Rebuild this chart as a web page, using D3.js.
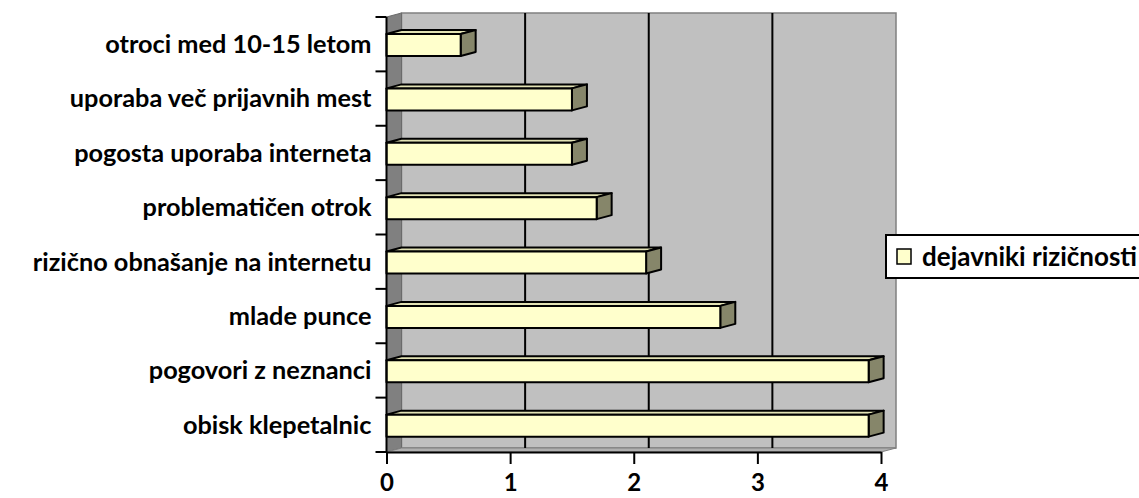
<!DOCTYPE html>
<html>
  <head>
    <meta charset="utf-8" />
    <title>Dejavniki rizičnosti</title>
    <style>
      body,
      html {
        margin: 0;
        padding: 0;
        background: #fff;
      }
      text {
        font-family: Lato, 'Open Sans', sans-serif;
        font-weight: bold;
        fill: #000;
      }
    </style>
  </head>
  <body>
    <script src="https://cdn.jsdelivr.net/npm/d3@7"></script>
    <script>
      const categories = [
        'otroci med 10-15 letom',
        'uporaba več prijavnih mest',
        'pogosta uporaba interneta',
        'problematičen otrok',
        'rizično obnašanje na internetu',
        'mlade punce',
        'pogovori z neznanci',
        'obisk klepetalnic'
      ];
      const values = [0.6, 1.5, 1.5, 1.7, 2.1, 2.7, 3.9, 3.9];
      const seriesName = 'dejavniki rizičnosti';
      const xTicks = [0, 1, 2, 3, 4];

      const width = 1139;
      const height = 498;

      const svg = d3
        .select('body')
        .append('svg')
        .attr('width', width)
        .attr('height', height);

      // front plane scales; the back wall is shifted by the depth offset
      const x = d3.scaleLinear().domain([0, 4]).range([386.5, 881]);
      const y = d3.scaleBand().domain(categories).range([17, 452]);
      const dx = 15;
      const dy = -4;

      const x0 = x(0);
      const yTop = y.range()[0];
      const yBot = y.range()[1];

      // walls
      const walls = svg.append('g');
      walls
        .append('rect')
        .attr('x', x0 + dx)
        .attr('y', yTop + dy)
        .attr('width', x(4) - x0)
        .attr('height', yBot - yTop)
        .attr('fill', '#c0c0c0')
        .attr('stroke', '#808080')
        .attr('stroke-width', 1.5);

      // side wall
      walls
        .append('polygon')
        .attr('points', [
          [x0, yTop],
          [x0 + dx, yTop + dy],
          [x0 + dx, yBot + dy],
          [x0, yBot]
        ].join(' '))
        .attr('fill', '#808080')
        .attr('stroke', '#6a6a6a')
        .attr('stroke-width', 1);

      // floor
      walls
        .append('polygon')
        .attr('points', [
          [x0, yBot],
          [x0 + dx, yBot + dy],
          [x(4) + dx, yBot + dy],
          [x(4), yBot]
        ].join(' '))
        .attr('fill', '#b0b0b0')
        .attr('stroke', '#808080')
        .attr('stroke-width', 1);

      // gridlines on back wall
      walls
        .selectAll('line.grid')
        .data(xTicks.slice(1, -1))
        .enter()
        .append('line')
        .attr('class', 'grid')
        .attr('x1', (d) => x(d) + dx)
        .attr('x2', (d) => x(d) + dx)
        .attr('y1', yTop + dy)
        .attr('y2', yBot + dy)
        .attr('stroke', '#000')
        .attr('stroke-width', 2);

      // bars
      const barOff = 17;
      const barH = 22;
      const bars = svg
        .append('g')
        .selectAll('g')
        .data(categories.map((c, i) => ({ c, v: values[i] })))
        .enter()
        .append('g')
        .attr('stroke', '#000')
        .attr('stroke-width', 2)
        .attr('stroke-linejoin', 'round');

      bars
        .append('polygon')
        .attr('points', (d) => {
          const t = y(d.c) + barOff;
          return [
            [x0, t],
            [x0 + dx, t + dy],
            [x(d.v) + dx, t + dy],
            [x(d.v), t]
          ].join(' ');
        })
        .attr('fill', '#e2e2b4');

      bars
        .append('polygon')
        .attr('points', (d) => {
          const t = y(d.c) + barOff;
          return [
            [x(d.v), t],
            [x(d.v) + dx, t + dy],
            [x(d.v) + dx, t + barH + dy],
            [x(d.v), t + barH]
          ].join(' ');
        })
        .attr('fill', '#86866a');

      bars
        .append('rect')
        .attr('x', x0)
        .attr('y', (d) => y(d.c) + barOff)
        .attr('width', (d) => x(d.v) - x0)
        .attr('height', barH)
        .attr('fill', '#ffffcc');

      // category axis
      const yAxis = svg.append('g');
      yAxis
        .append('line')
        .attr('x1', x0)
        .attr('x2', x0)
        .attr('y1', yTop)
        .attr('y2', yBot)
        .attr('stroke', '#000')
        .attr('stroke-width', 2);
      yAxis
        .selectAll('line.tick')
        .data(categories.map((c) => y(c)).concat([yBot]))
        .enter()
        .append('line')
        .attr('class', 'tick')
        .attr('x1', x0 - 11)
        .attr('x2', x0)
        .attr('y1', (d) => d)
        .attr('y2', (d) => d)
        .attr('stroke', '#000')
        .attr('stroke-width', 2);
      yAxis
        .selectAll('text')
        .data(categories)
        .enter()
        .append('text')
        .attr('x', x0 - 15)
        .attr('y', (d) => y(d) + y.bandwidth() / 2)
        .attr('dy', '0.35em')
        .attr('text-anchor', 'end')
        .attr('font-size', 25.3)
        .text((d) => d);

      // value axis
      const xAxis = svg
        .append('g')
        .attr('transform', `translate(0,${yBot})`)
        .call(
          d3
            .axisBottom(x)
            .tickValues(xTicks)
            .tickSize(12)
            .tickSizeOuter(0)
            .tickPadding(10)
            .tickFormat(d3.format('d'))
        );
      xAxis.select('.domain').attr('stroke-width', 2);
      xAxis.selectAll('.tick line').attr('stroke-width', 2);
      xAxis
        .selectAll('.tick text')
        .attr('font-size', 24)
        .attr('font-family', 'Lato, sans-serif')
        .attr('font-weight', 'bold');

      // legend
      const legend = svg.append('g').attr('transform', 'translate(886,235)');
      legend
        .append('rect')
        .attr('width', 270)
        .attr('height', 43)
        .attr('fill', '#fff')
        .attr('stroke', '#000')
        .attr('stroke-width', 2);
      legend
        .append('rect')
        .attr('x', 11)
        .attr('y', 14)
        .attr('width', 14)
        .attr('height', 15)
        .attr('fill', '#ffffcc')
        .attr('stroke', '#000')
        .attr('stroke-width', 1.5);
      legend
        .append('text')
        .attr('x', 36)
        .attr('y', 21.5)
        .attr('dy', '0.35em')
        .attr('font-size', 26)
        .text(seriesName);
    </script>
  </body>
</html>
